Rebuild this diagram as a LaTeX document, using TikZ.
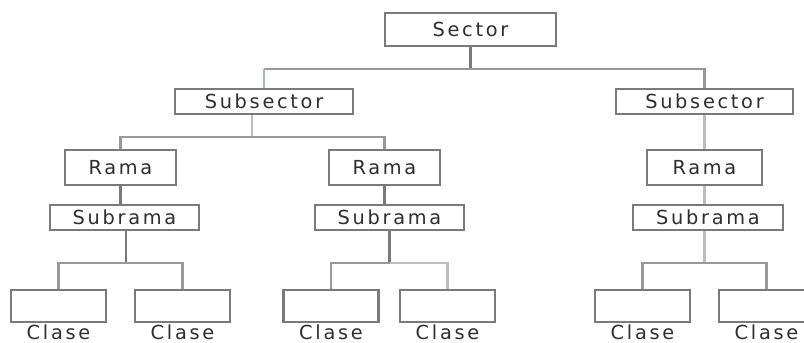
\documentclass[tikz,border=0pt]{standalone}
\usepackage{fontspec}
\setmainfont[LetterSpace=14]{DejaVu Sans}
\usepackage{tikz}
\usetikzlibrary{positioning}
\definecolor{darkline}{HTML}{7A7A7A}
\definecolor{midline}{HTML}{999999}
\definecolor{lightline}{HTML}{BDBDBD}
\definecolor{stemblue}{HTML}{9DBBDA}
\definecolor{labeltext}{HTML}{2E2E2E}
\tikzset{
    box/.style={draw=darkline, line width=1.6pt, inner sep=0pt, fill=white,
        text=labeltext, font=\fontsize{14.5}{16}\selectfont},
    sectorbox/.style={box, minimum width=128pt, minimum height=24.75pt},
    subsectorbox/.style={box, minimum width=133pt, minimum height=18.75pt},
    ramabox/.style={box, minimum width=83pt, minimum height=26.25pt},
    subramabox/.style={box, minimum width=112pt, minimum height=18.75pt},
    clasebox/.style={box, minimum width=71.25pt, minimum height=24pt},
    claselabel/.style={text=labeltext, font=\fontsize{14.5}{16}\selectfont, inner sep=1pt},
    link/.style={draw=midline, line width=1.8pt},
    darklink/.style={draw=darkline, line width=1.8pt},
    lightlink/.style={draw=lightline, line width=1.8pt},
}

\begin{document}
\begin{tikzpicture}[x=0.75pt, y=-0.75pt]
\useasboundingbox (0,0) rectangle (804,343);
% levels
\node[sectorbox] (sector) at (470.5,29.5) {Sector};
\node[subsectorbox] (subA) at (264,101.5) {Subsector};
\node[subsectorbox] (subB) at (704.5,101.5) {Subsector};
\node[ramabox] (ramaA) at (120.5,167.5) {Rama};
\node[ramabox] (ramaB) at (384.5,167.5) {Rama};
\node[ramabox, minimum width=86pt] (ramaC) at (704.5,167.5) {Rama};
\node[subramabox] (subrA) at (124.5,217.5) {Subrama};
\node[subramabox] (subrB) at (389.5,217.5) {Subrama};
\node[subramabox] (subrC) at (708,217.5) {Subrama};
% clases
\node[clasebox] (claseA1) at (58.5,306) {};
\node[clasebox] (claseA2) at (182.5,306) {};
\node[clasebox] (claseB1) at (331,306) {};
\node[clasebox] (claseB2) at (447.5,306) {};
\node[clasebox] (claseC1) at (642.5,306) {};
\node[clasebox] (claseC2) at (766.5,306) {};
\foreach \c in {A1,A2,B1,B2,C1,C2}
    \node[claselabel, below=0pt of clase\c] (lab\c) {Clase};
% junctions
\coordinate (jsector) at (470.5,69);
\coordinate (jsubA) at (252,137);
\coordinate (jsubrA) at (126,263);
\coordinate (jsubrB) at (389.5,263);
\coordinate (jsubrC) at (704.5,263);
% connectors
\draw[darklink] (sector) -- (jsector);
\draw[link] (jsector) -- (jsector -| subA);
\draw[draw=stemblue, line width=1.8pt] (jsector -| subA) -- (subA);
\draw[link] (jsector) -| (subB);
\draw[lightlink] (subA.south -| jsubA) -- (jsubA);
\draw[link] (jsubA) -| (ramaA);
\draw[link] (jsubA) -| (ramaB);
\draw[lightlink] (subB) -- (ramaC);
\draw[darklink] (ramaA.south) -- (ramaA.south |- subrA.north);
\draw[darklink] (ramaB.south) -- (ramaB.south |- subrB.north);
\draw[lightlink] (ramaC.south) -- (ramaC.south |- subrC.north);
\draw[darklink] (subrA.south -| jsubrA) -- (jsubrA);
\draw[darklink] (subrB.south -| jsubrB) -- (jsubrB);
\draw[lightlink] (subrC.south -| jsubrC) -- (jsubrC);
\draw[link] (jsubrA) -| (claseA1);
\draw[link] (jsubrA) -| (claseA2);
\draw[link] (jsubrB) -| (claseB1);
\draw[lightlink] (jsubrB) -| (claseB2);
\draw[link] (jsubrC) -| (claseC1);
\draw[link] (jsubrC) -| (claseC2);
\end{tikzpicture}
\end{document}
